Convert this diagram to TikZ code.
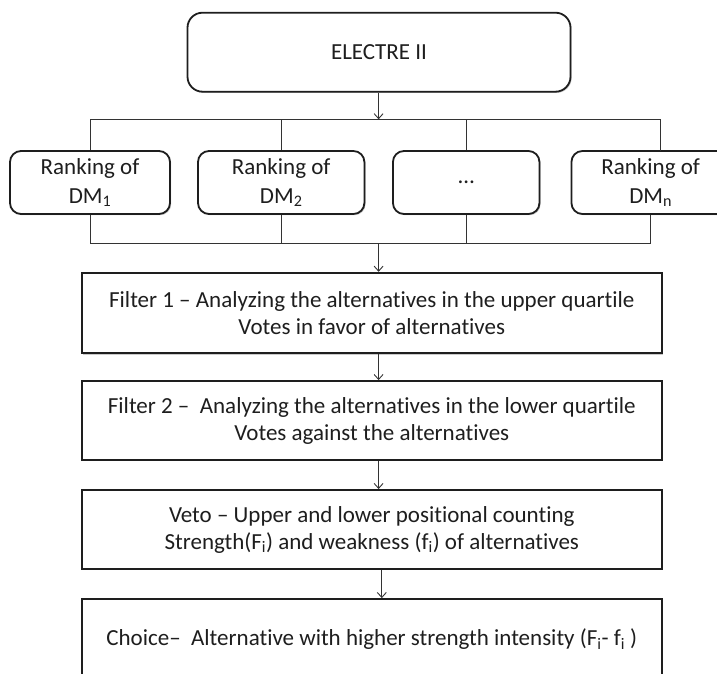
\documentclass[tikz,border=0pt]{standalone}
\usepackage{fontspec}
\setmainfont{Carlito}[RawFeature={-liga;-dlig}]
\usetikzlibrary{arrows.meta,shadows}
\definecolor{ink}{HTML}{1E1E1E}
\definecolor{wire}{HTML}{333333}
\tikzset{
  box/.style={draw=ink, line width=1.8pt, fill=white, text=ink,
    align=center, inner sep=0pt, minimum height=#1,
    font=\fontsize{23}{27}\selectfont,
    drop shadow={shadow xshift=1.2pt, shadow yshift=-1.2pt, fill=black!35, opacity=0.6}},
  box/.default=79pt,
  rbox/.style={box=#1, rounded corners=11pt, font=\fontsize{23}{29}\selectfont},
  rbox/.default=63pt,
  wire/.style={draw=wire, line width=0.9pt},
  arr/.style={wire, -{Straight Barb[length=5pt,width=9pt,line width=0.9pt]}},
}
\begin{document}
\begin{tikzpicture}[x=1pt,y=-1pt]
\useasboundingbox (0,0) rectangle (717,674);
\clip (0,0) rectangle (717,674);

% top method box and the four decision-maker rankings
\node[rbox=79pt, minimum width=383pt, rounded corners=15pt] (electre) at (379,52.2) {ELECTRE II};
\node[rbox, minimum width=160pt] (r1) at (90,182.5) {Ranking of\\DM\textsubscript{1}};
\node[rbox, minimum width=166.4pt] (r2) at (281.2,182.5) {Ranking of\\DM\textsubscript{2}};
\node[rbox, minimum width=146.5pt] (r3) at (466.2,182.5) {\ldots};
\node[rbox, minimum width=158.5pt] (r4) at (650.7,182.5) {Ranking of\\DM\textsubscript{n}};

% filtering stages
\node[box=80.6pt, minimum width=579.6pt] (f1) at (371.8,313) {Filter 1 – Analyzing the alternatives in the upper quartile\\Votes in favor of alternatives};
\node[box=79pt, minimum width=579.6pt] (f2) at (371.8,420.5) {Filter 2 –\ \ Analyzing the alternatives in the lower quartile\\Votes against the alternatives};
\node[box=79.3pt, minimum width=579.6pt] (veto) at (371.8,529.6) {Veto – Upper and lower positional counting\\Strength(F\textsubscript{i}) and weakness (f\textsubscript{i}) of alternatives};
\node[box=80.6pt, minimum width=579.6pt] (choice) at (371.8,639.3) {Choice–\ \ Alternative with higher strength intensity (F\textsubscript{i}- f\textsubscript{i} )};

% bus lines above and below the rankings
\coordinate (ax) at (378.6,0);
\coordinate (bx) at (381.8,0);
\coordinate (busTop) at (378.6,119.3);
\coordinate (busBot) at (378.6,243.3);
\coordinate (r4top) at (660.7,151);

\draw[arr] (electre.south -| ax) -- (busTop);
\draw[wire] (r1.north) -- (r1.north |- busTop) -- (r4top |- busTop) -- (r4top);
\draw[wire] (r2.north) -- (r2.north |- busTop);
\draw[wire] (r3.north) -- (r3.north |- busTop);

\draw[wire] (r1.south) -- (r1.south |- busBot) -- (r4.south |- busBot) -- (r4.south);
\draw[wire] (r2.south) -- (r2.south |- busBot);
\draw[wire] (r3.south) -- (r3.south |- busBot);

% flow through the stages
\draw[arr] (busBot) -- (f1.north -| ax);
\draw[arr] (f1.south -| ax) -- (f2.north -| ax);
\draw[arr] (f2.south -| ax) -- (veto.north -| ax);
\draw[arr] (veto.south -| bx) -- (choice.north -| bx);
\end{tikzpicture}
\end{document}
